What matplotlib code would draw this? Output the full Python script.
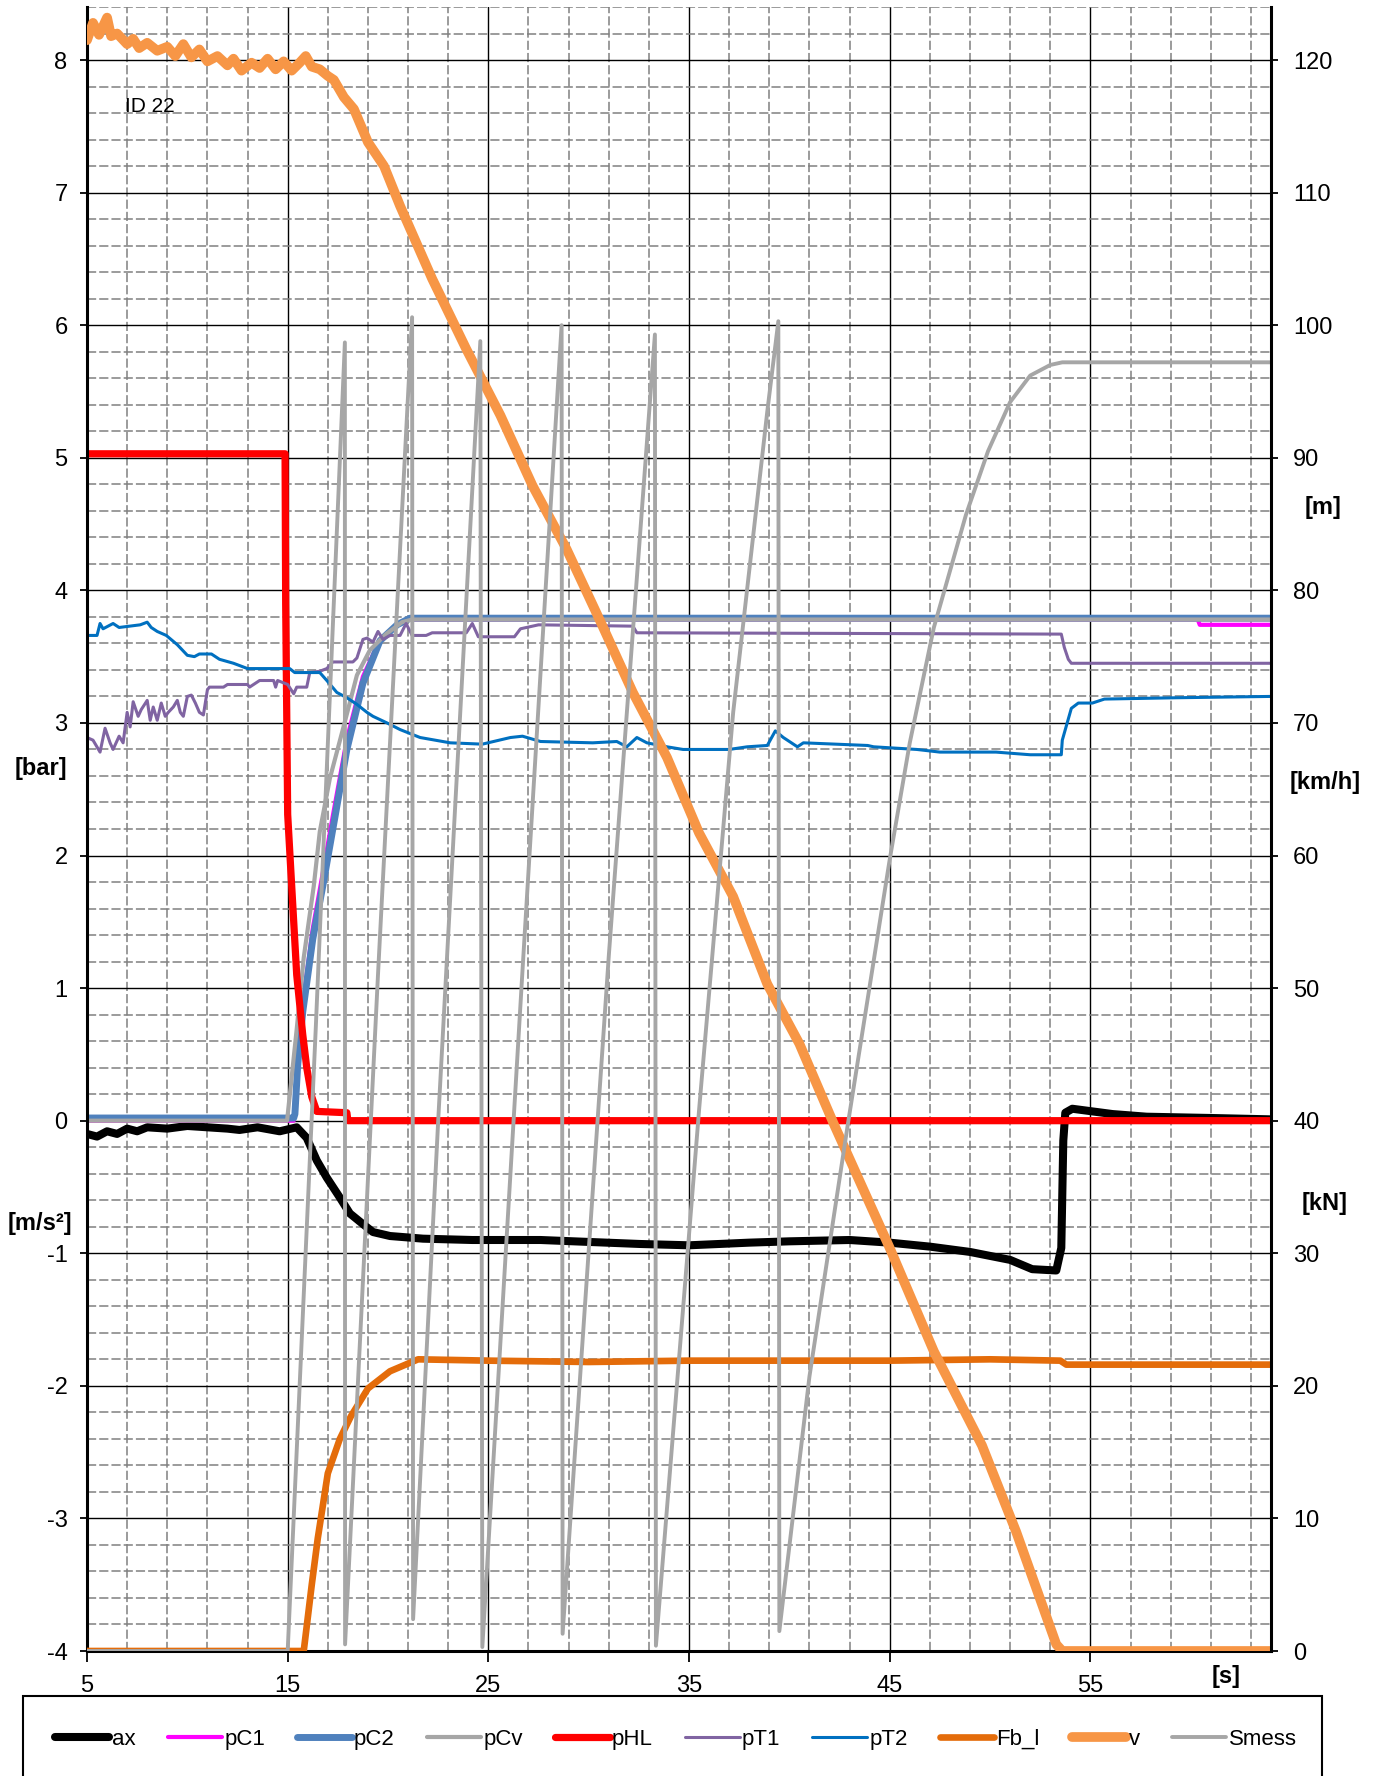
import numpy as np
import matplotlib.pyplot as plt
from matplotlib.ticker import FixedLocator, MultipleLocator
from matplotlib.lines import Line2D
from matplotlib.patches import Rectangle

plt.rcParams['font.family'] = ['Liberation Sans', 'DejaVu Sans']

# ---- data (time in s) ----
# left axis [bar] / [m/s2]
ax_t = [5, 5.5, 6, 6.5, 7, 7.5, 8, 9, 10, 11, 12, 12.6, 13.5, 14.6, 15.45, 15.95,
        16.45, 16.95, 17.6, 18.1, 18.75, 19.25, 20.1, 21.75, 24.2, 27.6, 30.9, 32.55,
        35, 38, 40, 43, 45, 47, 49, 51, 52.1, 53.3, 53.55, 53.65, 53.75, 54.1, 56.1,
        57.8, 61.1, 64]
ax_v = [-0.1, -0.12, -0.08, -0.1, -0.06, -0.08, -0.05, -0.06, -0.04, -0.05, -0.06, -0.07,
        -0.05, -0.08, -0.05, -0.13, -0.3, -0.43, -0.58, -0.7, -0.78, -0.84, -0.87, -0.89,
        -0.9, -0.9, -0.92, -0.93, -0.94, -0.92, -0.91, -0.9, -0.92, -0.95, -0.99, -1.05,
        -1.12, -1.13, -0.96, -0.15, 0.06, 0.09, 0.05, 0.03, 0.02, 0.01]

pc1_t = [5, 15.3, 15.5, 15.75, 16.25, 16.75, 17.25, 17.95, 18.75, 19.6, 20.45, 21.1,
         60.35, 60.45, 64]
pc1_v = [0.0, 0.0, 0.45, 0.88, 1.45, 1.87, 2.3, 2.88, 3.35, 3.63, 3.74, 3.78,
         3.78, 3.74, 3.74]

pc2_t = [5, 15.3, 15.36, 15.5, 15.75, 16.25, 16.75, 17.25, 17.95, 18.75, 19.6, 20.45,
         21.1, 64]
pc2_v = [0.02, 0.02, 0.05, 0.42, 0.82, 1.37, 1.77, 2.2, 2.8, 3.3, 3.62, 3.74,
         3.79, 3.79]

pcv_t = [5, 14.97, 15.45, 15.8, 16.3, 16.6, 17.1, 17.8, 18.45, 19.1, 19.9, 20.7, 21.2, 64]
pcv_v = [0.0, 0.0, 0.69, 1.23, 1.77, 2.18, 2.58, 2.98, 3.36, 3.55, 3.67, 3.76, 3.78, 3.78]

phl_t = [5, 14.87, 14.9, 14.95, 15.0, 15.2, 15.45, 15.75, 15.95, 16.2, 16.45, 17.95,
         18.0, 64]
phl_v = [5.03, 5.03, 3.9, 3.12, 2.31, 1.77, 1.1, 0.65, 0.4, 0.18, 0.07, 0.06, 0.0, 0.0]

pt1_t = [5.0, 5.3, 5.65, 5.9, 6.15, 6.3, 6.6, 6.8, 7.0, 7.15, 7.3, 7.55, 7.7, 8.0, 8.15,
         8.3, 8.5, 8.7, 8.9, 9.05, 9.3, 9.5, 9.65, 9.8, 10.0, 10.2, 10.4, 10.6, 10.8,
         11.0, 11.1, 11.8, 12.0, 13.0, 13.1, 13.6, 14.3, 14.4, 14.5, 15.0, 15.3, 15.45,
         15.95, 16.1, 16.6, 16.95, 17.25, 18.25, 18.45, 18.75, 18.95, 19.25, 19.5,
         19.75, 20.1, 20.6, 20.9, 21.2, 21.9, 22.2, 23.9, 24.2, 24.5, 26.3, 26.6, 27.2,
         27.5, 32.2, 32.4, 53.55, 53.7, 53.9, 54.05, 64]
pt1_v = [2.89, 2.87, 2.78, 2.96, 2.85, 2.80, 2.9, 2.85, 3.08, 2.97, 3.16, 3.05, 3.10,
         3.17, 3.02, 3.12, 3.02, 3.15, 3.05, 3.08, 3.12, 3.17, 3.08, 3.05, 3.2, 3.21,
         3.15, 3.08, 3.06, 3.25, 3.27, 3.27, 3.29, 3.29, 3.27, 3.32, 3.32, 3.27, 3.32,
         3.29, 3.22, 3.27, 3.27, 3.38, 3.39, 3.41, 3.46, 3.46, 3.49, 3.63, 3.64, 3.61,
         3.69, 3.63, 3.66, 3.66, 3.75, 3.66, 3.66, 3.68, 3.68, 3.75, 3.65, 3.65, 3.71,
         3.73, 3.74, 3.73, 3.68, 3.67, 3.57, 3.48, 3.45, 3.45]

pt2_t = [5, 5.5, 5.65, 5.8, 6.3, 6.6, 7.65, 8.0, 8.2, 8.5, 8.95, 9.5, 10.0, 10.35, 10.6,
         11.2, 11.6, 12.3, 13.0, 15.1, 15.35, 16.6, 16.95, 17.45, 17.95, 18.45, 18.95,
         19.25, 19.95, 20.6, 21.1, 21.6, 23.1, 24.7, 26.1, 26.7, 27.6, 30.2, 31.4, 31.9,
         32.4, 32.9, 33.9, 34.7, 37.0, 37.9, 38.9, 39.3, 39.7, 40.4, 40.7, 43.9, 44.2,
         46.35, 47.5, 50.3, 52.0, 53.55, 53.6, 54.05, 54.4, 55.1, 55.7, 59.3, 64]
pt2_v = [3.66, 3.66, 3.75, 3.71, 3.75, 3.72, 3.74, 3.76, 3.72, 3.69, 3.66, 3.59, 3.51,
         3.50, 3.52, 3.52, 3.48, 3.45, 3.41, 3.41, 3.38, 3.38, 3.32, 3.23, 3.19, 3.14,
         3.08, 3.05, 3.0, 2.95, 2.92, 2.89, 2.85, 2.84, 2.89, 2.9, 2.86, 2.85, 2.86,
         2.82, 2.89, 2.85, 2.82, 2.80, 2.80, 2.82, 2.83, 2.94, 2.89, 2.82, 2.85, 2.83,
         2.82, 2.80, 2.78, 2.78, 2.76, 2.76, 2.87, 3.11, 3.15, 3.15, 3.18, 3.19, 3.20]

# right axis [kN] / [km/h] / [m]
fb_t = [5, 15.8, 16.0, 16.2, 16.5, 17.0, 17.6, 18.15, 19.0, 20.1, 21.5, 25, 30, 35,
        40, 45, 50, 53.5, 53.8, 64]
fb_v = [0, 0, 2.5, 5.0, 8.5, 13.4, 16.0, 17.7, 19.8, 21.1, 22.0, 21.9, 21.8, 21.9,
        21.9, 21.9, 22.0, 21.9, 21.6, 21.6]

v_t = [5, 5.3, 5.6, 6.0, 6.2, 6.5, 7.0, 7.3, 7.6, 8.0, 8.5, 9.0, 9.4, 9.8, 10.2, 10.6,
       11.0, 11.5, 12.0, 12.3, 12.7, 13.2, 13.6, 14.0, 14.4, 14.8, 15.2, 15.6, 15.9,
       16.2, 16.6, 17.0, 17.3, 17.8, 18.3, 19.0, 19.8, 20.6, 22.2, 23.9, 25.6, 27.2,
       28.9, 30.6, 32.2, 33.9, 35.5, 37.2, 38.9, 40.5, 42.2, 45.0, 47.2, 49.6, 51.3,
       53.3, 53.6, 64]
v_v = [121.5, 122.8, 121.9, 123.2, 121.8, 122.0, 121.2, 121.6, 120.9, 121.3, 120.7,
       121.0, 120.3, 121.2, 120.2, 120.8, 119.9, 120.3, 119.6, 120.1, 119.2, 119.8,
       119.4, 120.1, 119.3, 119.9, 119.2, 119.8, 120.3, 119.5, 119.3, 118.8, 118.5,
       117.2, 116.3, 113.8, 112.0, 109.0, 103.5, 98.2, 93.2, 87.9, 83.1, 77.6, 72.3,
       67.4, 61.7, 56.9, 50.3, 45.8, 39.8, 30.4, 22.6, 15.5, 9.0, 0.5, 0.0, 0.0]

smess_t = [5, 15.0, 16.4, 17.85, 17.86, 19.5, 21.2, 21.25, 22.5, 24.6, 24.7, 26.7,
           28.65, 28.7, 31.0, 33.3, 33.35, 35.5, 37.2, 38.9, 39.45, 39.5, 41.0, 42.9,
           45.0, 46.0, 47.2, 48.8, 49.9, 51.0, 52.0, 53.0, 53.6, 64]
smess_v = [0, 0, 47, 98.7, 0.5, 51, 100.6, 2.4, 40, 98.8, 0.3, 51.3, 100.0, 1.3, 52.4,
           99.3, 0.4, 40.8, 70.8, 93.5, 100.3, 1.5, 20.7, 39.6, 59.7, 68.5, 77.2, 85.7,
           90.5, 94.2, 96.2, 97.0, 97.2, 97.2]

# ---- figure ----
W, H = 1383, 1776
fig = plt.figure(figsize=(W / 100, H / 100), dpi=100)
ax1 = fig.add_axes([87 / W, 1 - 1651 / H, (1271 - 87) / W, (1651 - 7) / H])
ax1.set_xlim(5, 64)
ax1.set_ylim(-4, 8.4)
ax2 = ax1.twinx()
ax2.set_ylim(0, 124)

# grid
ax1.xaxis.set_major_locator(FixedLocator([5, 15, 25, 35, 45, 55]))
ax1.xaxis.set_minor_locator(FixedLocator(np.arange(5, 65, 2)))
ax1.yaxis.set_major_locator(FixedLocator(np.arange(-4, 9)))
ax1.yaxis.set_minor_locator(MultipleLocator(0.2))
ax1.yaxis.set_major_formatter(lambda val, pos: f'{val:.0f}')
ax1.set_axisbelow(True)
ax1.grid(which='major', color='black', lw=1.0, ls='-')
ax1.grid(which='minor', color='#808080', lw=1.1, ls=(0, (6, 2)))
ax2.yaxis.set_major_locator(FixedLocator(np.arange(0, 121, 10)))

# series
st = dict(solid_capstyle='round', solid_joinstyle='round')
lines = []
lines += ax1.plot(ax_t, ax_v, color='black', lw=5.8, label='ax', **st)
lines += ax1.plot(pc1_t, pc1_v, color='#FF00FF', lw=3.0, label='pC1', **st)
lines += ax1.plot(pc2_t, pc2_v, color='#4F81BD', lw=5.0, label='pC2', **st)
lines += ax1.plot(pcv_t, pcv_v, color='#A6A6A6', lw=3.0, label='pCv', **st)
lines += ax1.plot(phl_t, phl_v, color='#FF0000', lw=5.2, label='pHL', **st)
lines += ax1.plot(pt1_t, pt1_v, color='#8064A2', lw=2.2, label='pT1', **st)
lines += ax1.plot(pt2_t, pt2_v, color='#0070C0', lw=2.2, label='pT2', **st)
lines += ax2.plot(fb_t, fb_v, color='#E46C0A', lw=4.8, label='Fb_l', **st)
lines += ax2.plot(v_t, v_v, color='#F79646', lw=7.0, label='v', **st)
lines += ax2.plot(smess_t, smess_v, color='#A6A6A6', lw=2.8, label='Smess', **st)

# spines / ticks
for s in ['top', 'right']:
    ax1.spines[s].set_visible(False)
for s in ['top', 'left', 'bottom']:
    ax2.spines[s].set_visible(False)
ax1.spines['left'].set_linewidth(2.2)
ax1.spines['bottom'].set_linewidth(2.2)
ax2.spines['right'].set_linewidth(2.2)

ax1.tick_params(axis='y', which='major', length=5, width=1.3, labelsize=17, pad=9)
ax1.tick_params(axis='x', which='major', length=8, width=1.3, labelsize=17, pad=9)
ax1.tick_params(which='minor', length=0)
ax2.tick_params(axis='y', which='major', length=5, width=1.3, labelsize=17, pad=11)

# axis unit labels
lab = dict(fontsize=17, fontweight='bold', ha='center', va='center')
fig.text(41 / W, 1 - 768 / H, '[bar]', **lab)
fig.text(40 / W, 1 - 1223 / H, '[m/s²]', **lab)
fig.text(1323 / W, 1 - 507 / H, '[m]', **lab)
fig.text(1325 / W, 1 - 782 / H, '[km/h]', **lab)
fig.text(1325 / W, 1 - 1203 / H, '[kN]', **lab)
fig.text(1226 / W, 1 - 1676 / H, '[s]', **lab)
ax1.text(6.9, 7.65, 'ID 22', fontsize=15, va='center', ha='left')

# legend box (runs off the bottom of the picture)
fig.add_artist(Rectangle((23 / W, -0.05), (1322 - 23) / W, (1776 - 1696) / H + 0.05,
                         transform=fig.transFigure, fill=False, ec='black', lw=1.5))
handles = [Line2D([], [], color=l.get_color(), lw=l.get_linewidth(), solid_capstyle='round')
           for l in lines]
fig.legend(handles, [l.get_label() for l in lines], ncol=10, loc='center left',
           bbox_to_anchor=(55 / W, 1 - 1739 / H), frameon=False, fontsize=16,
           handlelength=2.45, handletextpad=0.1, columnspacing=1.45,
           borderpad=0, borderaxespad=0)

fig.savefig('out.png', dpi=100)
